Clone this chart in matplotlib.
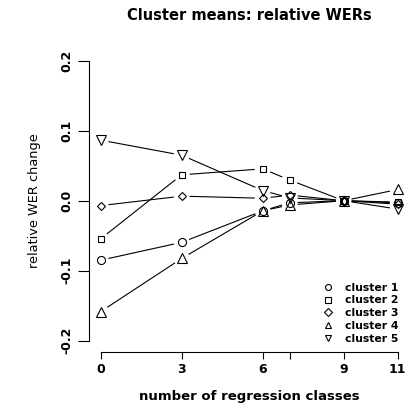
import matplotlib
matplotlib.use('Agg')
import matplotlib.pyplot as plt
import numpy as np

plt.rcParams['font.family'] = ['DejaVu Sans']

classes = [0, 3, 6, 7, 9, 11]
cluster1 = [-0.085, -0.0595, -0.0145, -0.003, 0.0, -0.003]
cluster2 = [-0.0545, 0.037, 0.0455, 0.0295, 0.0, -0.002]
cluster3 = [-0.007, 0.0065, 0.0035, 0.008, 0.0, -0.005]
cluster4 = [-0.1585, -0.0825, -0.0145, -0.006, 0.0, 0.016]
cluster5 = [0.0865, 0.065, 0.0145, 0.004, 0.0, -0.012]
series = [cluster1, cluster2, cluster3, cluster4, cluster5]
names = ['cluster 1', 'cluster 2', 'cluster 3', 'cluster 4', 'cluster 5']
markers = ['o', 's', 'D', '^', 'v']
msizes = [5.8, 5.0, 4.3, 7.2, 7.2]
xticks = [0, 3, 6, 7, 9, 11]
xticklabels = ['0', '3', '6', '', '9', '11']
yticks = [-0.2, -0.1, 0.0, 0.1, 0.2]

W, H = 407, 418
fig = plt.figure(figsize=(W / 100, H / 100), dpi=100)
L, R, T, B = 88.8, 409.6, 49.5, 351.9
ax = fig.add_axes([L / W, 1 - B / H, (R - L) / W, (B - T) / H])
ax.set_xlim(-0.44, 11.44)
ax.set_ylim(-0.216, 0.216)

gap = 8.5  # px left open around each point, like R type="b"
for ys, m, ms in zip(series, markers, msizes):
    pts = ax.transData.transform(np.column_stack([classes, ys]))
    for p0, p1 in zip(pts[:-1], pts[1:]):
        d = p1 - p0
        n = np.hypot(*d)
        if n <= 2 * gap:
            continue
        u = d / n
        seg = ax.transData.inverted().transform([p0 + u * gap, p1 - u * gap])
        ax.plot(seg[:, 0], seg[:, 1], color='black', lw=0.8)
    ax.plot(classes, ys, linestyle='none', marker=m, ms=ms, mfc='none',
            mec='black', mew=0.8)

for s in ['top', 'right']:
    ax.spines[s].set_visible(False)
ax.spines['left'].set_bounds(-0.2, 0.2)
ax.spines['bottom'].set_bounds(0, 11)
for s in ['left', 'bottom']:
    ax.spines[s].set_linewidth(0.8)

ax.set_xticks(xticks)
ax.set_xticklabels(xticklabels, fontweight='bold', fontsize=9)
ax.set_yticks(yticks)
ax.set_yticklabels(['%.1f' % v for v in yticks], fontweight='bold', fontsize=9,
                   rotation=90, va='center')
ax.tick_params(axis='x', length=5, width=0.8, pad=3)
ax.tick_params(axis='y', length=8, width=0.8, pad=3)

ax.set_xlabel('number of regression classes', fontweight='bold', fontsize=9.5, labelpad=10)
ax.set_ylabel('relative WER change', fontsize=9.3, labelpad=14)
fig.text((L + R) / 2 / W, 1 - 16 / H, 'Cluster means: relative WERs',
         ha='center', va='center', fontweight='bold', fontsize=10.5)

handles = [plt.Line2D([], [], linestyle='none', marker=m,
                      ms=(4.3 if m != 'D' else 3.6), mfc='none', mec='black', mew=0.8)
           for m in markers]
leg = ax.legend(handles, names, loc='lower left', frameon=False,
                bbox_to_anchor=(317 / W, 1 - 349 / H), bbox_transform=fig.transFigure,
                prop={'weight': 'bold', 'size': 7.8}, handlelength=1.0,
                handletextpad=1.1, labelspacing=0.25, borderpad=0)

fig.savefig('out.png', dpi=100)
